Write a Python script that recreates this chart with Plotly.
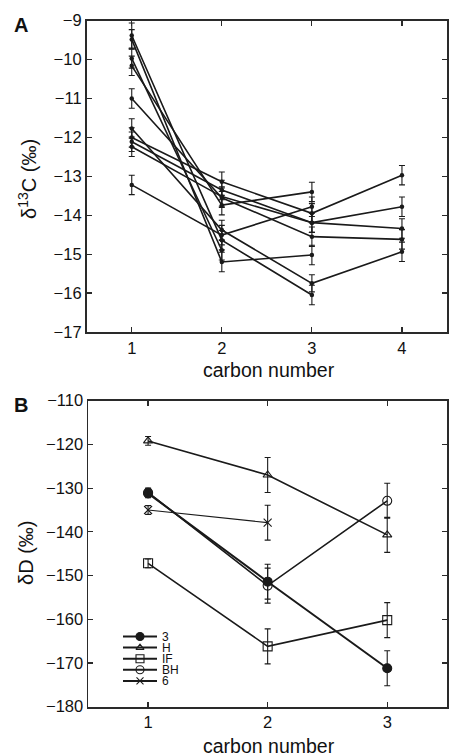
import plotly.graph_objects as go

# ---------------- Panel A data (delta 13C, per mil) ----------------
carbon_a = [1, 2, 3, 4]
d13c_series = [
    [-9.38, -14.64, -16.05, None],
    [-9.48, -15.20, -15.02, None],
    [-9.97, -14.90, None, None],
    [-10.16, -13.74, -13.40, None],
    [-11.00, -13.55, -14.55, -14.62],
    [-11.77, -14.38, -15.75, -14.94],
    [-12.00, -13.14, -13.95, -12.97],
    [-12.11, -13.35, -14.19, -13.78],
    [-12.24, -13.52, -14.19, -14.34],
    [-13.22, -14.51, -13.78, None],
]
d13c_err = [
    [0.32, 0.25, 0.25, None],
    [0.25, 0.25, 0.25, None],
    [0.25, 0.25, None, None],
    [0.25, 0.25, 0.25, None],
    [0.25, 0.25, 0.25, 0.25],
    [0.25, 0.25, 0.22, 0.25],
    [0.25, 0.25, 0.25, 0.25],
    [0.25, 0.25, 0.25, 0.25],
    [0.25, 0.25, 0.25, 0.25],
    [0.25, 0.25, 0.25, None],
]

# ---------------- Panel B data (delta D, per mil) ----------------
carbon_b = [1, 2, 3]
dD_labels = ["3", "H", "IF", "BH", "6"]
dD_3 = [-131.2, -151.4, -171.2]
dD_3_err = [1.0, 4.0, 4.0]
dD_H = [-119.2, -127.0, -140.7]
dD_H_err = [1.0, 4.0, 4.0]
dD_IF = [-147.2, -166.2, -160.2]
dD_IF_err = [1.0, 4.0, 4.0]
dD_BH = [-131.0, -152.3, -132.9]
dD_BH_err = [1.0, 4.0, 4.0]
dD_6 = [-135.0, -137.9, None]
dD_6_err = [1.0, 4.0, None]

ticks_a_y = [-17, -16, -15, -14, -13, -12, -11, -10, -9]
ticks_b_y = [-180, -170, -160, -150, -140, -130, -120, -110]

W, H = 449, 756
LINE = "#1a1a1a"
AX = "#2a2a2a"
FONT = "Liberation Sans, Arial, sans-serif"

fig = go.Figure()

# Panel A traces
for vals, errs in zip(d13c_series, d13c_err):
    fig.add_trace(go.Scatter(
        x=carbon_a, y=vals, mode="lines+markers",
        line=dict(color=LINE, width=1.6),
        marker=dict(color=LINE, size=4.5, symbol="circle"),
        error_y=dict(type="data", array=[e if e is not None else 0 for e in errs],
                     visible=True, color=LINE, thickness=1.1, width=3),
        xaxis="x", yaxis="y", showlegend=False, connectgaps=False,
    ))

# Panel B traces
b_sets = [
    (dD_3, dD_3_err, "circle", LINE, 9, 2.0),
    (dD_H, dD_H_err, "triangle-up-open", LINE, 8, 1.6),
    (dD_IF, dD_IF_err, "square-open", LINE, 9, 1.6),
    (dD_BH, dD_BH_err, "circle-open", LINE, 9, 1.6),
    (dD_6, dD_6_err, "x-thin-open", LINE, 8, 1.1),
]
for (vals, errs, sym, col, sz, lw), lab in zip(b_sets, dD_labels):
    fig.add_trace(go.Scatter(
        x=carbon_b, y=vals, mode="lines+markers", name=lab,
        line=dict(color=col, width=lw),
        marker=dict(color=col, size=sz, symbol=sym, line=dict(color=col, width=1.1)),
        error_y=dict(type="data", array=[e if e is not None else 0 for e in errs],
                     visible=True, color=col, thickness=1.1, width=3),
        xaxis="x2", yaxis="y2", showlegend=False,
    ))

# Manual compact legend on an overlay pixel-space axis
leg_x0, leg_x1, leg_y0, leg_dy = 123, 157, 636.5, 11.1
for i, ((vals, errs, sym, col, sz, lw), lab) in enumerate(zip(b_sets, dD_labels)):
    yy = leg_y0 + i * leg_dy
    fig.add_trace(go.Scatter(
        x=[leg_x0, (leg_x0 + leg_x1) / 2, leg_x1], y=[yy, yy, yy],
        mode="lines", line=dict(color=col, width=2.0),
        xaxis="x3", yaxis="y3", showlegend=False, hoverinfo="skip"))
    fig.add_trace(go.Scatter(
        x=[(leg_x0 + leg_x1) / 2], y=[yy], mode="markers",
        marker=dict(color=col, size=sz - 1, symbol=sym, line=dict(color=col, width=1.1)),
        xaxis="x3", yaxis="y3", showlegend=False, hoverinfo="skip"))
    fig.add_annotation(x=leg_x1 + 3, y=yy, xref="x3", yref="y3", text=lab,
                       showarrow=False, xanchor="left", yanchor="middle",
                       font=dict(size=12, color="#111", family=FONT))

def px_x(p):
    return p / W

def px_y(p):
    return 1 - p / H

axis_common = dict(
    showline=True, linecolor=AX, linewidth=1.8, mirror="ticks",
    ticks="inside", ticklen=5, tickwidth=1.2, tickcolor=AX,
    showgrid=False, zeroline=False, automargin=False,
    tickfont=dict(size=16.5, color="#111", family=FONT),
)

fig.update_layout(
    template="none",
    width=W, height=H,
    margin=dict(l=0, r=0, t=0, b=0, pad=0, autoexpand=False),
    paper_bgcolor="white", plot_bgcolor="rgba(0,0,0,0)",
    font=dict(family=FONT, color="#111"),
    xaxis=dict(domain=[px_x(86.7), px_x(447)], range=[0.5, 4.5],
               tickvals=carbon_a, anchor="y", **axis_common),
    yaxis=dict(domain=[px_y(332), px_y(20.7)], range=[-17, -9],
               tickvals=ticks_a_y, anchor="x", **axis_common),
    xaxis2=dict(domain=[px_x(88.3), px_x(447)], range=[0.5, 3.5],
                tickvals=carbon_b, anchor="y2", **axis_common),
    yaxis2=dict(domain=[px_y(706.7), px_y(400.7)], range=[-180, -110],
                tickvals=ticks_b_y, anchor="x2", **axis_common),
    xaxis3=dict(domain=[0, 1], range=[0, W], visible=False, anchor="y3",
                automargin=False),
    yaxis3=dict(domain=[0, 1], range=[H, 0], visible=False, anchor="x3",
                automargin=False),
    showlegend=False,
)

# Axis titles and panel letters
xt_font = dict(size=19.5, color="#111", family=FONT)
yt_font = dict(size=20, color="#111", family=FONT)
fig.add_annotation(x=px_x(269), y=px_y(370), xref="paper", yref="paper",
                   text="carbon number", showarrow=False, font=xt_font,
                   xanchor="center", yanchor="middle")
fig.add_annotation(x=px_x(269), y=px_y(746), xref="paper", yref="paper",
                   text="carbon number", showarrow=False, font=xt_font,
                   xanchor="center", yanchor="middle")
fig.add_annotation(x=px_x(28), y=px_y(179), xref="paper", yref="paper",
                   text="δ<sup>13</sup>C (‰)", showarrow=False, font=yt_font,
                   textangle=-90, xanchor="center", yanchor="middle")
fig.add_annotation(x=px_x(26), y=px_y(553), xref="paper", yref="paper",
                   text="δD (‰)", showarrow=False, font=yt_font,
                   textangle=-90, xanchor="center", yanchor="middle")
fig.add_annotation(x=px_x(21), y=px_y(25), xref="paper", yref="paper",
                   text="<b>A</b>", showarrow=False,
                   font=dict(size=20, color="#111", family=FONT),
                   xanchor="center", yanchor="middle")
fig.add_annotation(x=px_x(21), y=px_y(405), xref="paper", yref="paper",
                   text="<b>B</b>", showarrow=False,
                   font=dict(size=20, color="#111", family=FONT),
                   xanchor="center", yanchor="middle")

fig.write_html("out.html", config={"displayModeBar": False, "staticPlot": True},
               post_script="document.body.style.margin='0';document.body.style.overflow='hidden';")
